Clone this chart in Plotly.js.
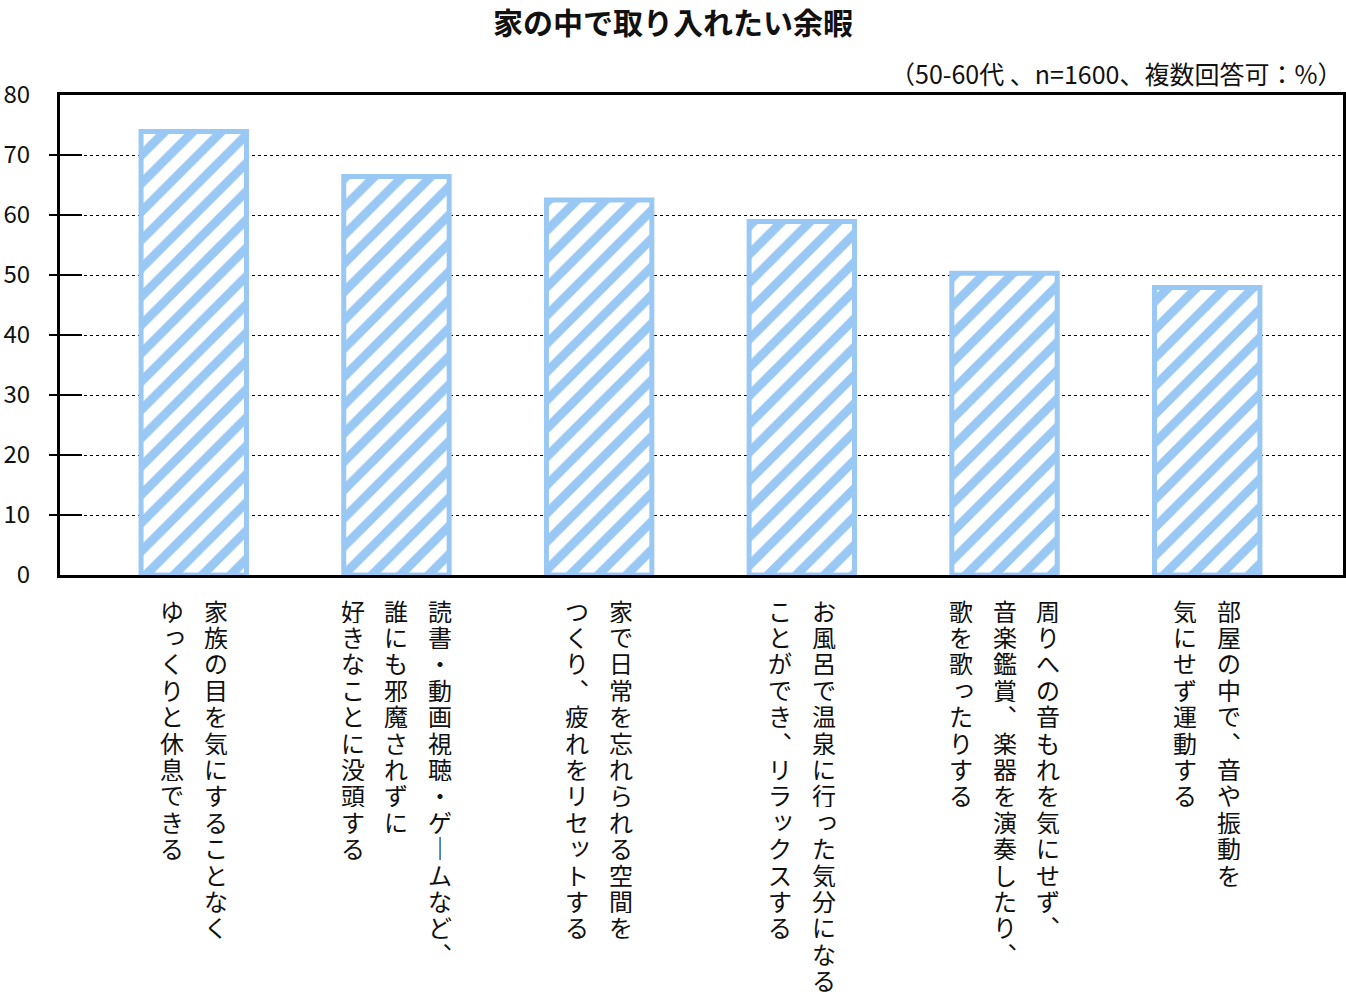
<!DOCTYPE html>
<html>
<head>
<meta charset="utf-8">
<script src="https://cdn.plot.ly/plotly-3.0.1.min.js"></script>
<style>
  body { margin: 0; background: #fff; }
  #grafico { width: 1346px; height: 1001px; }
</style>
</head>
<body>
<div id="grafico"></div>
<script>
// etiquetas (una columna vertical por linea, de derecha a izquierda)
var labelLines = [
  ["家族の目を気にすることなく", "ゆっくりと休息できる"],
  ["読書・動画視聴・ゲームなど、", "誰にも邪魔されずに", "好きなことに没頭する"],
  ["家で日常を忘れられる空間を", "つくり、疲れをリセットする"],
  ["お風呂で温泉に行った気分になる", "ことができ、リラックスする"],
  ["周りへの音もれを気にせず、", "音楽鑑賞、楽器を演奏したり、", "歌を歌ったりする"],
  ["部屋の中で、音や振動を", "気にせず運動する"]
];
var values = [73.9, 66.4, 62.5, 58.9, 50.3, 47.9];
var yTicks = [0, 10, 20, 30, 40, 50, 60, 70, 80];
var yMarks = [10, 20, 30, 40, 50, 60, 70];

var categories = labelLines.map(function (l) { return l.join(""); });

var font = "Noto Sans CJK JP";
var azul = "#9ac8f4";

// formas verticales para la puntuacion
var vert = { "、": "︑", "ー": "｜" };
var small = "っッゃゅょャュョ";

var data = [{
  x: categories,
  y: values,
  type: "bar",
  width: 0.52,
  marker: {
    color: "white",
    line: { color: azul, width: 5 },
    pattern: { shape: "/", fgcolor: azul, bgcolor: "white", size: 20, solidity: 0.45 }
  },
  hoverinfo: "none"
}];

var annotations = [];
labelLines.forEach(function (lines, c) {
  var n = lines.length;
  lines.forEach(function (line, j) {
    Array.from(line).forEach(function (ch, i) {
      var isSmall = small.indexOf(ch) >= 0;
      annotations.push({
        x: categories[c], xref: "x",
        y: 0, yref: "paper",
        xshift: ((n - 1) / 2 - j) * 43.5 + (isSmall ? 3 : 0),
        yshift: -(35 + i * 26.4) + (isSmall ? 3 : 0),
        xanchor: "center", yanchor: "middle",
        width: 28, height: 25, borderpad: 0,
        text: vert[ch] || ch,
        showarrow: false,
        font: { family: font, size: 24, color: "#111" }
      });
    });
  });
});

annotations.push({
  xref: "paper", x: 1, xanchor: "right", xshift: 1,
  yref: "paper", y: 1, yanchor: "middle", yshift: 22,
  text: "（50-60代 、n=1600、複数回答可：%）",
  showarrow: false,
  font: { family: font, size: 25, color: "#111" }
});

var layout = {
  width: 1346,
  height: 1001,
  margin: { l: 60, r: 3, t: 95, b: 426 },
  paper_bgcolor: "white",
  plot_bgcolor: "white",
  showlegend: false,
  font: { family: font, color: "#111" },
  title: {
    text: "家の中で取り入れたい余暇",
    font: { family: font, size: 30, weight: "bold", color: "#111" },
    x: 0.5, xanchor: "center",
    y: 0.977, yanchor: "middle"
  },
  xaxis: {
    type: "category",
    range: [-0.66, 5.67],
    showticklabels: false,
    ticks: "",
    showgrid: false,
    showline: true, linecolor: "black", linewidth: 3, mirror: true,
    fixedrange: true
  },
  yaxis: {
    range: [0, 80],
    tickvals: yTicks,
    ticks: "",
    ticklabelstandoff: 22,
    tickfont: { family: font, size: 24, color: "#111" },
    showgrid: true, gridcolor: "black", griddash: "dot", gridwidth: 1,
    zeroline: false,
    showline: true, linecolor: "black", linewidth: 3, mirror: true,
    fixedrange: true
  },
  yaxis2: {
    overlaying: "y", side: "left", range: [0, 80],
    tickvals: yMarks, ticks: "outside", ticklen: 10, tickwidth: 2, tickcolor: "black",
    showticklabels: false, showgrid: false, zeroline: false, showline: false
  },
  yaxis3: {
    overlaying: "y", side: "left", range: [0, 80],
    tickvals: yMarks, ticks: "inside", ticklen: 22, tickwidth: 2, tickcolor: "black",
    showticklabels: false, showgrid: false, zeroline: false, showline: false
  },
  annotations: annotations
};

// trazas vacias para que se dibujen los ejes auxiliares
data.push({ x: [], y: [], yaxis: "y2", type: "scatter", hoverinfo: "none" });
data.push({ x: [], y: [], yaxis: "y3", type: "scatter", hoverinfo: "none" });

Plotly.newPlot("grafico", data, layout, { displayModeBar: false, staticPlot: true });
</script>
</body>
</html>
